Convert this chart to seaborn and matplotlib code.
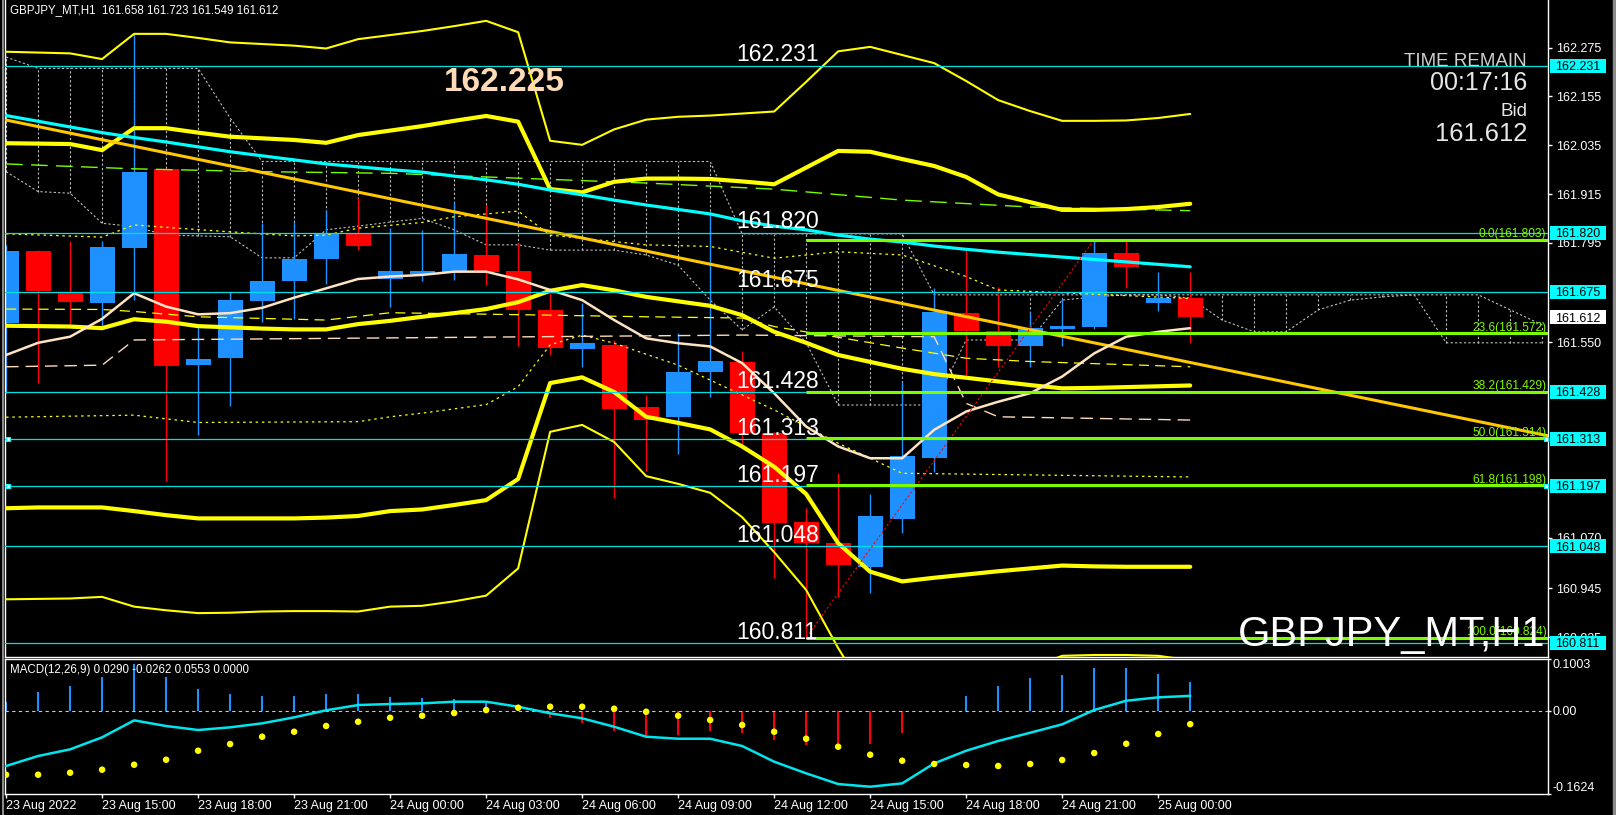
import numpy as np
import pandas as pd
import matplotlib.pyplot as plt
from matplotlib.patches import Rectangle
from matplotlib.lines import Line2D
import seaborn as sns

sns.set_theme(style="dark")
plt.rcParams['font.family'] = ['Liberation Sans', 'DejaVu Sans']

# ---------------- data (H1 candles, 23 Aug 12:00 .. 25 Aug 01:00) ----------------
time_labels = ['23 Aug 2022', '23 Aug 15:00', '23 Aug 18:00', '23 Aug 21:00', '24 Aug 00:00',
               '24 Aug 03:00', '24 Aug 06:00', '24 Aug 09:00', '24 Aug 12:00', '24 Aug 15:00',
               '24 Aug 18:00', '24 Aug 21:00', '25 Aug 00:00']
label_idx = [0, 3, 6, 9, 12, 15, 18, 21, 24, 27, 30, 33, 36]

opens = [161.598, 161.775, 161.675, 161.648, 161.781, 161.976, 161.494, 161.512, 161.653, 161.701,
         161.755, 161.817, 161.707, 161.718, 161.724, 161.765, 161.725, 161.629, 161.534, 161.544,
         161.391, 161.367, 161.476, 161.501, 161.326, 161.107, 161.056, 160.998, 161.116, 161.266,
         161.622, 161.577, 161.540, 161.584, 161.589, 161.771, 161.648, 161.658]
highs = [161.790, 161.777, 161.799, 161.799, 162.310, 161.980, 161.595, 161.675, 161.844, 161.847,
         161.876, 161.905, 161.832, 161.827, 161.896, 161.888, 161.794, 161.671, 161.647, 161.556,
         161.421, 161.572, 161.870, 161.528, 161.330, 161.142, 161.228, 161.177, 161.453, 161.683,
         161.779, 161.686, 161.626, 161.656, 161.803, 161.803, 161.724, 161.723]
lows = [161.425, 161.449, 161.593, 161.589, 161.654, 161.209, 161.322, 161.394, 161.601, 161.607,
        161.694, 161.777, 161.638, 161.702, 161.703, 161.691, 161.541, 161.520, 161.490, 161.168,
        161.234, 161.275, 161.415, 161.298, 160.970, 160.824, 160.924, 160.933, 161.081, 161.232,
        161.470, 161.489, 161.489, 161.542, 161.582, 161.683, 161.628, 161.549]
closes = [161.775, 161.677, 161.650, 161.785, 161.969, 161.492, 161.509, 161.654, 161.701, 161.755,
          161.816, 161.787, 161.725, 161.725, 161.767, 161.724, 161.629, 161.537, 161.549, 161.386,
          161.360, 161.477, 161.504, 161.326, 161.106, 161.056, 161.003, 161.123, 161.270, 161.625,
          161.579, 161.540, 161.586, 161.590, 161.769, 161.736, 161.660, 161.612]

ma_fast = [161.519, 161.549, 161.564, 161.608, 161.671, 161.638, 161.619, 161.622, 161.635, 161.660,
           161.683, 161.706, 161.712, 161.716, 161.724, 161.724, 161.705, 161.679, 161.654, 161.605,
           161.560, 161.548, 161.540, 161.499, 161.425, 161.343, 161.294, 161.265, 161.265, 161.335,
           161.380, 161.404, 161.425, 161.466, 161.523, 161.564, 161.576, 161.585]
ma_slow = [162.108, 162.094, 162.080, 162.066, 162.054, 162.043, 162.031, 162.019, 162.009, 161.999,
           161.989, 161.982, 161.975, 161.969, 161.959, 161.950, 161.939, 161.925, 161.913, 161.900,
           161.888, 161.877, 161.866, 161.849, 161.836, 161.827, 161.814, 161.804, 161.797, 161.787,
           161.779, 161.772, 161.766, 161.760, 161.754, 161.748, 161.742, 161.736]

bb_up2 = [162.265, 162.263, 162.261, 162.247, 162.309, 162.309, 162.299, 162.288, 162.284, 162.280,
          162.273, 162.296, 162.306, 162.316, 162.328, 162.341, 162.313, 162.046, 162.036, 162.074,
          162.098, 162.105, 162.108, 162.113, 162.118, 162.191, 162.266, 162.277, 162.257, 162.237,
          162.193, 162.146, 162.119, 162.095, 162.095, 162.096, 162.102, 162.112]
bb_up1 = [162.040, 162.039, 162.038, 162.023, 162.077, 162.077, 162.066, 162.056, 162.052, 162.048,
          162.041, 162.060, 162.071, 162.082, 162.095, 162.107, 162.093, 161.927, 161.919, 161.945,
          161.953, 161.953, 161.952, 161.946, 161.939, 161.980, 162.021, 162.019, 162.001, 161.984,
          161.957, 161.914, 161.895, 161.876, 161.876, 161.878, 161.883, 161.891]
bb_mid = [161.591, 161.590, 161.589, 161.585, 161.607, 161.601, 161.590, 161.587, 161.584, 161.582,
          161.582, 161.595, 161.603, 161.613, 161.622, 161.632, 161.649, 161.677, 161.691, 161.678,
          161.662, 161.651, 161.640, 161.617, 161.576, 161.549, 161.519, 161.502, 161.485, 161.472,
          161.463, 161.454, 161.445, 161.437, 161.438, 161.440, 161.442, 161.444]
bb_lo1 = [161.142, 161.144, 161.144, 161.144, 161.135, 161.125, 161.117, 161.117, 161.117, 161.117,
          161.119, 161.123, 161.135, 161.139, 161.150, 161.162, 161.214, 161.450, 161.464, 161.428,
          161.367, 161.352, 161.336, 161.294, 161.244, 161.177, 161.056, 160.986, 160.962, 160.971,
          160.979, 160.987, 160.994, 161.001, 160.999, 160.998, 160.998, 160.998]
bb_lo2 = [160.918, 160.919, 160.920, 160.924, 160.900, 160.891, 160.884, 160.885, 160.888, 160.889,
          160.889, 160.888, 160.900, 160.902, 160.913, 160.927, 160.994, 161.330, 161.347, 161.305,
          161.221, 161.202, 161.180, 161.120, 161.034, 160.941, 160.798, 160.670, 160.633, 160.645,
          160.670, 160.707, 160.749, 160.779, 160.781, 160.781, 160.779, 160.768]

green_idx = [0, 4, 8, 12, 16, 20, 24, 28, 32, 37]
green_val = [161.989, 161.977, 161.970, 161.966, 161.954, 161.942, 161.927, 161.900, 161.883, 161.874]

dashA_idx = [0, 3, 4, 5, 7, 9, 10, 11, 13, 14, 16, 17, 20, 22, 24, 26, 28, 30, 31, 37]
dashA_val = [161.817, 161.809, 161.839, 161.833, 161.822, 161.812, 161.814, 161.831, 161.845, 161.859,
             161.873, 161.814, 161.790, 161.786, 161.757, 161.773, 161.765, 161.712, 161.679, 161.658]
dashB_idx = [0, 3, 4, 6, 10, 12, 17, 20, 23, 24, 28, 30, 32, 37]
dashB_val = [161.632, 161.631, 161.626, 161.613, 161.605, 161.623, 161.617, 161.613, 161.610, 161.589,
             161.536, 161.511, 161.503, 161.490]
dotC_idx = [0, 4, 6, 11, 12, 13, 15, 16, 17, 18, 19, 21, 24, 26, 28, 37]
dotC_val = [161.366, 161.371, 161.353, 161.355, 161.367, 161.376, 161.397, 161.441, 161.544, 161.568,
            161.548, 161.494, 161.384, 161.302, 161.228, 161.219]
peach_idx = [0, 3, 4, 23, 29, 30, 31, 37]
peach_val = [161.490, 161.494, 161.556, 161.568, 161.564, 161.400, 161.367, 161.359]

span_a = [162.252, 162.224, 162.224, 162.224, 162.224, 162.224, 162.224, 162.102, 161.995, 161.995,
          161.995, 161.995, 161.995, 161.995, 161.995, 161.995, 161.995, 161.995, 161.995, 161.995,
          161.995, 161.995, 161.995, 161.817, 161.817, 161.817, 161.817, 161.817, 161.817, 161.667,
          161.667, 161.667, 161.667, 161.667, 161.667, 161.667, 161.667, 161.667, 161.667, 161.667,
          161.667, 161.667, 161.667, 161.667, 161.667, 161.667, 161.667, 161.630, 161.593]
span_b = [161.970, 161.921, 161.917, 161.843, 161.835, 161.814, 161.812, 161.810, 161.758, 161.758,
          161.827, 161.836, 161.846, 161.855, 161.827, 161.790, 161.790, 161.777, 161.777, 161.777,
          161.765, 161.740, 161.654, 161.581, 161.637, 161.549, 161.396, 161.396, 161.396, 161.396,
          161.556, 161.556, 161.556, 161.654, 161.662, 161.667, 161.667, 161.659, 161.605, 161.576,
          161.576, 161.630, 161.654, 161.662, 161.667, 161.549, 161.549, 161.549, 161.549]

trend_t = [0, 48.2]
trend_p = [162.097, 161.320]

levels = [162.231, 161.820, 161.675, 161.428, 161.313, 161.197, 161.048, 160.811]
fib_pct = ['0.0', '23.6', '38.2', '50.0', '61.8', '100.0']
fib_price = [161.803, 161.572, 161.429, 161.314, 161.198, 160.824]
fib_from, fib_to = 25, 34

price_ticks = [162.275, 162.155, 162.035, 161.915, 161.795, 161.550, 161.070, 160.945, 160.825]

macd_hist = [0.0176, 0.0365, 0.048, 0.0657, 0.092, 0.0657, 0.0423, 0.0326, 0.0287, 0.0287,
             0.0326, 0.0326, 0.0267, 0.0248, 0.0228, 0.019, 0.002, -0.0136, -0.024, -0.039,
             -0.0507, -0.0474, -0.0396, -0.0429, -0.0572, -0.0669, -0.0754, -0.065, -0.0429, -0.001,
             0.0287, 0.048, 0.0638, 0.0696, 0.0833, 0.0833, 0.0716, 0.0553]
macd_line = [-0.1078, -0.0883, -0.0753, -0.0519, -0.0188, -0.0298, -0.0376, -0.0324, -0.0246, -0.0129,
             0.0008, 0.0111, 0.0131, 0.0144, 0.0176, 0.0176, 0.0078, -0.005, -0.0148, -0.0312,
             -0.0507, -0.0546, -0.0546, -0.0688, -0.0994, -0.1221, -0.143, -0.1482, -0.1417, -0.1027,
             -0.078, -0.059, -0.0429, -0.0265, 0.0014, 0.0195, 0.0261, 0.0290]
macd_dots = [-0.1248, -0.1248, -0.1209, -0.115, -0.1053, -0.0956, -0.078, -0.065, -0.0507, -0.041,
             -0.0298, -0.0215, -0.0137, -0.0098, -0.0045, 0.0014, 0.0059, 0.0078, 0.0078, 0.0039,
             -0.002, -0.0098, -0.0181, -0.0279, -0.041, -0.0546, -0.0702, -0.0858, -0.0975, -0.1039,
             -0.1059, -0.1078, -0.1039, -0.0961, -0.0825, -0.0644, -0.0454, -0.0262]

# ---------------- figure ----------------
W, H = 1616, 815
fig = plt.figure(figsize=(W / 100, H / 100), dpi=100, facecolor='black')
ax = fig.add_axes([5 / W, 1 - 656.5 / H, 1543 / W, 656.5 / H])
ax2 = fig.add_axes([5 / W, 1 - 794 / H, 1543 / W, (794 - 659.3) / H])
XMIN, XMAX = -0.034, 48.18
YMIN, YMAX = 160.7773, 162.3923

for a in (ax, ax2):
    a.set_facecolor('black')
    a.grid(False)
    for s in a.spines.values():
        s.set_color('white')
        s.set_linewidth(1)
ax.spines['top'].set_visible(False)

t = np.arange(len(opens))
df = pd.DataFrame({'t': t, 'open': opens, 'high': highs, 'low': lows, 'close': closes,
                   'ma_fast': ma_fast, 'ma_slow': ma_slow, 'bb_up2': bb_up2, 'bb_up1': bb_up1,
                   'bb_mid': bb_mid, 'bb_lo1': bb_lo1, 'bb_lo2': bb_lo2,
                   'hist': macd_hist, 'macd': macd_line, 'sig': macd_dots})

# cloud (gray dotted)
ct = np.arange(len(span_a))
gray = '#BDBDBD'
ax.plot(ct, span_a, color=gray, lw=0.8, ls=(0, (2, 2)), zorder=1)
ax.plot(ct, span_b, color=gray, lw=0.8, ls=(0, (2, 2)), zorder=1)
ax.vlines(ct, span_b, span_a, colors=gray, lw=0.8, linestyles=(0, (2, 2)), zorder=1)

# candles
up = df['close'] >= df['open']
ccol = np.where(up, '#1E90FF', '#FF0000')
ax.vlines(df['t'], df['low'], df['high'], colors=ccol, lw=1, zorder=2)
body_lo = np.minimum(df['open'], df['close'])
body_h = np.maximum((df['close'] - df['open']).abs(), 0.004)
ax.bar(df['t'], body_h, bottom=body_lo, width=0.78, color=ccol, linewidth=0, zorder=2.5)

# thin dashed indicator lines
ax.plot(dotC_idx, dotC_val, color='#FFFF00', lw=0.9, ls=(0, (2, 3)), zorder=3)
ax.plot(dashA_idx, dashA_val, color='#FFFF00', lw=0.9, ls=(0, (2, 3)), zorder=3)
ax.plot(dashB_idx, dashB_val, color='#FFFF00', lw=0.9, ls=(0, (8, 5)), zorder=3)
ax.plot(peach_idx, peach_val, color='#FFDAB9', lw=1.0, ls=(0, (9, 5)), zorder=3)
ax.plot(green_idx, green_val, color='#7CFC00', lw=1.0, ls=(0, (12, 6)), zorder=3)

# bands
sns.lineplot(data=df, x='t', y='bb_up2', ax=ax, color='#FFFF00', lw=1.5, zorder=4)
sns.lineplot(data=df, x='t', y='bb_lo2', ax=ax, color='#FFFF00', lw=1.5, zorder=4)
sns.lineplot(data=df, x='t', y='bb_up1', ax=ax, color='#FFFF00', lw=3, zorder=4)
sns.lineplot(data=df, x='t', y='bb_mid', ax=ax, color='#FFFF00', lw=3, zorder=4)
sns.lineplot(data=df, x='t', y='bb_lo1', ax=ax, color='#FFFF00', lw=3, zorder=4)

# moving averages + trendline
sns.lineplot(data=df, x='t', y='ma_slow', ax=ax, color='#00FFFF', lw=2.3, zorder=5)
ax.plot(trend_t, trend_p, color='#FFC800', lw=2.2, zorder=5)
sns.lineplot(data=df, x='t', y='ma_fast', ax=ax, color='#FFE4C4', lw=1.8, zorder=5)

# horizontal levels
for p in levels:
    ax.axhline(p, color='#00E0E0', lw=0.9, zorder=6)
    ax.annotate(f'{p:.3f}', xy=(22.8, p), xytext=(0, 3), textcoords='offset points',
                color='white', fontsize=16.5, va='baseline', ha='left', zorder=9)

# fibonacci
ax.plot([fib_from, fib_to], [fib_price[-1], fib_price[0]], color='#FF0000', lw=0.8,
        ls=(0, (2, 2)), zorder=6)
ax.hlines(fib_price, fib_from, XMAX, colors='#7CFC00', lw=2.2, zorder=6)
for pct, p in zip(fib_pct, fib_price):
    ax.annotate(f'{pct}({p:.3f})', xy=(48.13, p), xytext=(0, 1.5), textcoords='offset points',
                color='#7CFC00', fontsize=8.6, va='baseline', ha='right', zorder=9)
ax.scatter([0.06, 0.06, 48.12, 48.12], [161.313, 161.197, 161.313, 161.197], marker='s', s=10,
           facecolor='white', edgecolor='#00FFFF', linewidth=0.8, zorder=10, clip_on=False)

ax.set_xlim(XMIN, XMAX)
ax.set_ylim(YMIN, YMAX)
ax.set_xlabel('')
ax.set_ylabel('')
ax.set_xticks([])
ax.yaxis.tick_right()
ax.set_yticks(price_ticks)
ax.set_yticklabels([f'{v:.3f}' for v in price_ticks])
ax.tick_params(axis='y', colors='white', labelsize=9, length=3, width=1, pad=2.5, right=True, left=False)

# price boxes on the right axis
ytr = ax.get_yaxis_transform()
box_h = 14 / 406.5
for p in levels:
    ax.add_patch(Rectangle((1.0013, p - box_h / 2), 56 / 1543, box_h, transform=ytr,
                           facecolor='#00FFFF', edgecolor='none', clip_on=False, zorder=20))
    ax.text(1.0046, p, f'{p:.3f}', transform=ytr, color='black', fontsize=9,
            va='center_baseline', ha='left', zorder=21, clip_on=False)
ax.add_patch(Rectangle((1.0013, closes[-1] - box_h / 2), 56 / 1543, box_h, transform=ytr,
                       facecolor='white', edgecolor='none', clip_on=False, zorder=20))
ax.text(1.0046, closes[-1], f'{closes[-1]:.3f}', transform=ytr, color='black', fontsize=9,
        va='center_baseline', ha='left', zorder=21, clip_on=False)

# ---------------- MACD panel ----------------
hcol = np.where(df['hist'] >= 0, '#1E90FF', '#FF0000')
ax2.vlines(df['t'], 0, df['hist'], colors=hcol, lw=1.5, zorder=2)
ax2.axhline(0, color='#C8C8C8', lw=0.8, ls=(0, (3, 3)), zorder=3)
sns.lineplot(data=df, x='t', y='macd', ax=ax2, color='#00E5EE', lw=1.8, zorder=4)
sns.scatterplot(data=df, x='t', y='sig', ax=ax2, color='#FFFF00', s=22, edgecolor='none', zorder=5)
ax2.set_xlim(XMIN, XMAX)
ax2.set_ylim(-0.1624, 0.1003)
ax2.set_xlabel('')
ax2.set_ylabel('')
ax2.yaxis.tick_right()
ax2.set_yticks([0.1003, 0.0, -0.1624])
ax2.set_yticklabels(['0.1003', '0.00', '-0.1624'])
ax2.tick_params(axis='y', colors='white', labelsize=9, length=2, width=1, pad=1.5, right=True, left=False)
ylabs = ax2.get_yticklabels()
ylabs[0].set_va('top')
ylabs[2].set_va('bottom')
ax2.set_xticks(label_idx)
ax2.set_xticklabels(time_labels)
ax2.tick_params(axis='x', colors='white', labelsize=9, length=3, width=1, pad=1.5, bottom=True)
for lab in ax2.get_xticklabels():
    lab.set_ha('left')

# ---------------- texts ----------------
fig.text(10 / W, 1 - 10.5 / H, 'GBPJPY_MT,H1  161.658 161.723 161.549 161.612', color='white',
         fontsize=8.3, va='center', ha='left')
fig.text(9.6 / W, 1 - 670 / H, 'MACD(12,26,9) 0.0290 -0.0262 0.0553 0.0000', color='white',
         fontsize=8.3, va='center', ha='left')
fig.text(444 / W, 1 - 79 / H, '162.225', color='#FFDAB9', fontsize=24, fontweight='bold',
         va='center_baseline', ha='left')
fig.text(1527 / W, 1 - 60 / H, 'TIME REMAIN', color='#CFCFCF', fontsize=13.5,
         va='center_baseline', ha='right')
fig.text(1527 / W, 1 - 81 / H, '00:17:16', color='#E6E6E6', fontsize=18,
         va='center_baseline', ha='right')
fig.text(1527 / W, 1 - 110 / H, 'Bid', color='#E6E6E6', fontsize=13.5,
         va='center_baseline', ha='right')
fig.text(1527 / W, 1 - 131.5 / H, '161.612', color='#E6E6E6', fontsize=18.4,
         va='center_baseline', ha='right')
fig.text(1545 / W, 1 - 631 / H, 'GBPJPY_MT,H1', color='white', fontsize=30,
         va='center_baseline', ha='right', zorder=1)

# window borders
fig.add_artist(Line2D([1613.5 / W, 1613.5 / W], [0, 1], color='#8A8A8A', lw=2.5, transform=fig.transFigure))
fig.add_artist(Line2D([2.5 / W, 2.5 / W], [0, 1], color='#8A8A8A', lw=1.5, transform=fig.transFigure))

fig.savefig('out.png', dpi=100, facecolor='black')
